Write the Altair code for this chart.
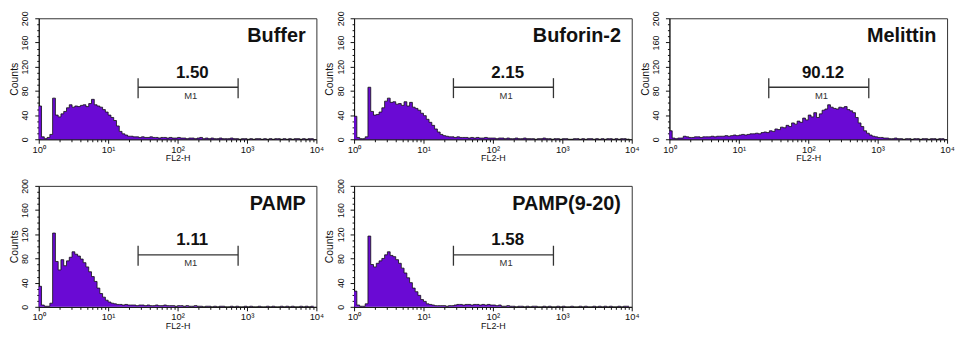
import altair as alt
import pandas as pd

# ---------------- data ----------------
decade_step = 0.04
n_bins = 100
channel = [round(10 ** (i * decade_step), 5) for i in range(n_bins)]

panel_names = ["Buffer", "Buforin-2", "Melittin", "PAMP", "PAMP(9-20)"]
m1_percent = ["1.50", "2.15", "90.12", "1.11", "1.58"]

buffer_counts = [
    55, 4, 1, 3, 8, 68, 40, 37, 42, 46,
    52, 57, 53, 55, 54, 56, 57, 54, 59, 66,
    57, 55, 53, 49, 45, 40, 36, 31, 22, 13,
    9, 7, 5, 5, 4, 4, 3, 4, 3, 3,
    4, 3, 3, 2, 3, 3, 2, 3, 2, 2,
    3, 2, 2, 1, 2, 2, 1, 2, 3, 1,
    2, 1, 2, 1, 1, 2, 1, 1, 1, 2,
    1, 1, 0, 1, 1, 0, 1, 0, 1, 1,
    0, 1, 0, 1, 0, 1, 1, 0, 1, 0,
    1, 0, 1, 1, 0, 1, 0, 1, 1, 1,
]
buforin_counts = [
    38, 3, 1, 1, 4, 86, 46, 40, 41, 45,
    52, 63, 68, 61, 62, 58, 59, 56, 62, 55,
    61, 53, 51, 48, 43, 39, 33, 28, 23, 17,
    12, 8, 6, 5, 4, 4, 3, 4, 3, 3,
    3, 2, 3, 2, 3, 2, 2, 3, 2, 2,
    2, 1, 2, 2, 1, 2, 1, 1, 2, 1,
    1, 2, 1, 1, 1, 0, 1, 1, 2, 1,
    1, 0, 1, 1, 0, 1, 1, 0, 0, 1,
    1, 0, 1, 0, 1, 1, 0, 1, 0, 1,
    0, 1, 1, 0, 1, 0, 1, 1, 0, 1,
]
melittin_counts = [
    14, 2, 1, 2, 2, 5, 4, 3, 3, 4,
    4, 3, 4, 4, 4, 5, 4, 5, 5, 5,
    6, 5, 6, 7, 6, 7, 8, 7, 8, 9,
    9, 10, 9, 11, 12, 11, 14, 13, 17, 16,
    20, 19, 23, 21, 27, 25, 30, 28, 35, 32,
    40, 37, 44, 36, 42, 48, 50, 57, 53, 51,
    50, 53, 52, 54, 49, 47, 44, 36, 27, 21,
    14, 10, 7, 5, 4, 3, 3, 2, 2, 1,
    1, 2, 1, 1, 0, 1, 1, 0, 1, 1,
    0, 1, 1, 0, 1, 1, 0, 1, 1, 1,
]
pamp_counts = [
    34, 3, 1, 1, 6, 122, 75, 61, 78, 68,
    76, 82, 91, 87, 84, 79, 73, 66, 58, 50,
    42, 31, 22, 16, 11, 8, 6, 5, 4, 4,
    3, 4, 3, 3, 3, 2, 3, 3, 2, 3,
    2, 2, 3, 2, 2, 3, 2, 2, 2, 1,
    2, 2, 1, 2, 1, 1, 2, 1, 1, 0,
    1, 1, 0, 1, 0, 1, 1, 0, 0, 1,
    0, 1, 0, 0, 1, 0, 1, 0, 0, 1,
    0, 0, 1, 0, 1, 0, 0, 1, 0, 1,
    0, 1, 0, 0, 1, 0, 1, 0, 1, 1,
]
pamp920_counts = [
    26, 3, 1, 1, 5, 117, 70, 66, 72, 76,
    80, 86, 91, 85, 83, 78, 72, 64, 56, 48,
    40, 31, 25, 19, 12, 9, 5, 4, 3, 2,
    2, 2, 2, 1, 2, 2, 3, 4, 4, 3,
    4, 4, 3, 4, 4, 3, 4, 3, 4, 3,
    3, 2, 3, 1, 1, 2, 1, 1, 0, 1,
    1, 0, 1, 0, 1, 1, 0, 0, 1, 0,
    1, 0, 0, 1, 0, 1, 0, 0, 1, 0,
    0, 1, 0, 1, 0, 0, 1, 0, 1, 0,
    1, 0, 1, 0, 0, 1, 0, 1, 1, 1,
]
all_counts = [buffer_counts, buforin_counts, melittin_counts, pamp_counts, pamp920_counts]

# M1 marker gate (FL2-H range) and its drawing level (counts)
m1_start, m1_end = 27, 745
m1_level, m1_low, m1_high = 86, 68, 101

x_major_ticks = [1, 10, 100, 1000, 10000]
x_minor_ticks = [m * 10 ** k for k in range(4) for m in range(2, 10)]
y_major_ticks = [0, 40, 80, 120, 160, 200]
y_minor_ticks = [v for v in range(10, 200, 10) if v % 40 != 0]

# ---------------- style ----------------
PURPLE = "#6A0AD4"
INK = "#111111"
FONT = "Liberation Sans"
NARROW = "'Liberation Sans Narrow', 'Liberation Sans', sans-serif"
W, H = 280, 122

sup_expr = ("datum.value == 1 ? '10\u2070' : datum.value == 10 ? '10\u00b9' : "
            "datum.value == 100 ? '10\u00b2' : datum.value == 1000 ? '10\u00b3' : '10\u2074'")


def panel(name, counts, pct):
    xs = alt.Scale(type="log", domain=[1, 10000], nice=False)
    ys = alt.Scale(domain=[0, 200], nice=False)

    x_major = alt.Axis(values=x_major_ticks, labelExpr=sup_expr, title="FL2-H", orient="bottom",
                       tickSize=4, labelPadding=1, titlePadding=0, labelFlush=False,
                       labelFontSize=9.5, titleFontSize=9, titleFontWeight="normal",
                       labelOverlap=False, labelFont=FONT, titleFont=FONT)
    y_major = alt.Axis(values=y_major_ticks, title="Counts", orient="left", labelAngle=270,
                       labelAlign="center", labelBaseline="bottom", tickSize=4,
                       labelPadding=5, titlePadding=1.5, labelFlush=False,
                       labelFontSize=9, titleFontSize=10.5, titleFontWeight="normal",
                       labelFont=NARROW, titleFont=FONT)
    x_minor = alt.Axis(values=x_minor_ticks, labels=False, tickSize=2.5, domain=False,
                       title=None, orient="bottom")
    y_minor = alt.Axis(values=y_minor_ticks, labels=False, tickSize=2, domain=False,
                       title=None, orient="left")

    df = pd.DataFrame({"fl2": channel, "count": counts})
    hist = alt.Chart(df).mark_area(
        interpolate="step-after", color=PURPLE, opacity=1,
        line={"color": INK, "strokeWidth": 0.8},
    ).encode(
        x=alt.X("fl2:Q", scale=xs, axis=x_major),
        y=alt.Y("count:Q", scale=ys, axis=y_major),
    )

    gate = pd.DataFrame({"start": [m1_start], "end": [m1_end], "level": [m1_level]})
    gate_line = alt.Chart(gate).mark_rule(color="#333333", strokeWidth=1.3).encode(
        x=alt.X("start:Q", scale=xs, axis=x_minor),
        x2="end:Q",
        y=alt.Y("level:Q", scale=ys, axis=y_minor),
    )
    ends = pd.DataFrame({"pos": [m1_start, m1_end], "low": [m1_low] * 2, "high": [m1_high] * 2})
    gate_ends = alt.Chart(ends).mark_rule(color="#333333", strokeWidth=1.3).encode(
        x=alt.X("pos:Q", scale=xs, axis=None),
        y=alt.Y("low:Q", scale=ys, axis=None),
        y2="high:Q",
    )

    labels = pd.DataFrame({
        "fl2": [163, 155, 7000],
        "count": [110, 72, 170],
        "txt": [pct, "M1", name],
        "kind": ["pct", "m1", "title"],
    })
    pct_text = alt.Chart(labels).transform_filter(alt.datum.kind == "pct").mark_text(
        font=FONT, fontSize=17, fontWeight="bold", color=INK, baseline="middle", align="center"
    ).encode(x=alt.X("fl2:Q", scale=xs, axis=None), y=alt.Y("count:Q", scale=ys, axis=None), text="txt:N")
    m1_text = alt.Chart(labels).transform_filter(alt.datum.kind == "m1").mark_text(
        font=FONT, fontSize=9.5, color="#333333", baseline="middle", align="center"
    ).encode(x=alt.X("fl2:Q", scale=xs, axis=None), y=alt.Y("count:Q", scale=ys, axis=None), text="txt:N")
    title_text = alt.Chart(labels).transform_filter(alt.datum.kind == "title").mark_text(
        font=FONT, fontSize=20, fontWeight="bold", color=INK, baseline="middle", align="right"
    ).encode(x=alt.X("fl2:Q", scale=xs, axis=None), y=alt.Y("count:Q", scale=ys, axis=None), text="txt:N")

    return alt.layer(hist, gate_line, gate_ends, pct_text, m1_text, title_text).resolve_axis(
        x="independent", y="independent"
    ).properties(width=W, height=H)


charts = [panel(n, c, p) for n, c, p in zip(panel_names, all_counts, m1_percent)]

chart = alt.concat(
    *charts, columns=3, spacing={"row": 47, "column": 38}, bounds="flush"
).properties(
    padding={"left": 0, "top": 0, "right": 0, "bottom": 0},
    background="white",
).configure_view(
    stroke="#333333", strokeWidth=1
).configure_axis(
    domainColor=INK, tickColor=INK, labelColor=INK, titleColor=INK,
    grid=False, domainWidth=1, tickWidth=1,
)

chart.save("out.html", embed_options={"renderer": "svg", "actions": False})
